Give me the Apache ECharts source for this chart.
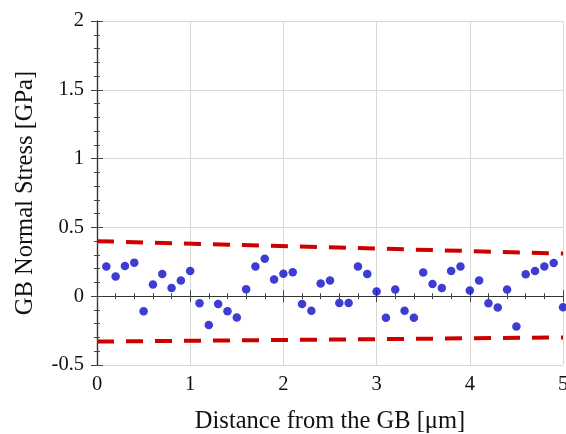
<!DOCTYPE html>
<html>
<head>
<meta charset="utf-8">
<script src="https://cdn.jsdelivr.net/npm/echarts@6/dist/echarts.min.js"></script>
<style>
html,body{margin:0;padding:0;background:#fff;}
#chart{width:566px;height:434px;}
</style>
</head>
<body>
<div id="chart"></div>
<script>
// Distance from the grain boundary [µm]
const distance = [0.1,0.2,0.3,0.4,0.5,0.6,0.7,0.8,0.9,1.0,
                  1.1,1.2,1.3,1.4,1.5,1.6,1.7,1.8,1.9,2.0,
                  2.1,2.2,2.3,2.4,2.5,2.6,2.7,2.8,2.9,3.0,
                  3.1,3.2,3.3,3.4,3.5,3.6,3.7,3.8,3.9,4.0,
                  4.1,4.2,4.3,4.4,4.5,4.6,4.7,4.8,4.9,5.0];
// GB normal stress [GPa]
const stress = [0.215,0.143,0.22,0.244,-0.109,0.085,0.162,0.06,0.114,0.183,
                -0.051,-0.21,-0.056,-0.109,-0.155,0.051,0.215,0.273,0.121,0.164,
                0.174,-0.056,-0.106,0.092,0.114,-0.049,-0.049,0.215,0.162,0.034,
                -0.157,0.049,-0.106,-0.157,0.172,0.089,0.06,0.183,0.215,0.041,
                0.114,-0.051,-0.082,0.049,-0.22,0.159,0.183,0.215,0.241,-0.08];
// Bounding envelope lines
const envX = [0, 5];
const upperBound = [0.40, 0.31];
const lowerBound = [-0.33, -0.30];

const xTicks = [0,1,2,3,4,5];
const yTicks = [-0.5,0,0.5,1,1.5,2];

const font = '"Liberation Serif", "Times New Roman", serif';
const chart = echarts.init(document.getElementById('chart'));

const tickStyle = {color:'#444'};
const frameAxis = {
  axisLine:{show:true,lineStyle:{color:'#333',width:1.2}},
  axisTick:{show:true,inside:true,length:6,lineStyle:tickStyle},
  minorTick:{show:true,splitNumber:5,length:3,lineStyle:tickStyle},
  axisLabel:{show:false},
  splitLine:{show:false}
};

chart.setOption({
  animation:false,
  backgroundColor:'#fff',
  grid:{left:97,right:3,top:21,bottom:69,containLabel:false,outerBoundsMode:'none'},
  xAxis:[{
    type:'value',min:xTicks[0],max:xTicks[xTicks.length-1],interval:1,
    name:'Distance from the GB [μm]',nameLocation:'middle',nameGap:44,
    nameTextStyle:{fontFamily:font,fontSize:24.5,color:'#111'},
    axisLine:{show:true,lineStyle:{color:'#333',width:1.2}},
    axisTick:{show:true,inside:true,length:6,lineStyle:tickStyle},
    minorTick:{show:true,splitNumber:5,length:3,lineStyle:tickStyle},
    axisLabel:{fontFamily:font,fontSize:20.5,color:'#111',margin:9,hideOverlap:false},
    splitLine:{show:true,lineStyle:{color:'#d8d8d8',width:1}}
  },Object.assign({},frameAxis,{
    type:'value',position:'top',min:0,max:5,interval:1
  })],
  yAxis:[{
    type:'value',min:yTicks[0],max:yTicks[yTicks.length-1],interval:0.5,
    name:'GB Normal Stress [GPa]',nameLocation:'middle',nameGap:59,
    nameTextStyle:{fontFamily:font,fontSize:24.5,color:'#111'},
    axisLine:{show:true,lineStyle:{color:'#333',width:1.2}},
    axisTick:{show:true,inside:true,length:6,lineStyle:tickStyle},
    minorTick:{show:true,splitNumber:5,length:3,lineStyle:tickStyle},
    axisLabel:{fontFamily:font,fontSize:20.5,color:'#111',margin:13,
      formatter:v=>String(v)},
    splitLine:{show:true,lineStyle:{color:'#d8d8d8',width:1}}
  },Object.assign({},frameAxis,{
    type:'value',position:'right',min:-0.5,max:2,interval:0.5
  })],
  series:[{
    type:'line',
    data:envX.map((x,i)=>[x,upperBound[i]]),
    symbol:'none',
    lineStyle:{color:'#cc0000',width:4,type:[17,12]},
    z:3
  },{
    type:'line',
    data:envX.map((x,i)=>[x,lowerBound[i]]),
    symbol:'none',
    lineStyle:{color:'#cc0000',width:4,type:[17,12]},
    z:3
  },{
    type:'scatter',
    data:distance.map((x,i)=>[x,stress[i]]),
    symbol:'circle',symbolSize:8.5,
    itemStyle:{color:'#0c0cc8'},
    z:4
  }]
});
</script>
</body>
</html>
